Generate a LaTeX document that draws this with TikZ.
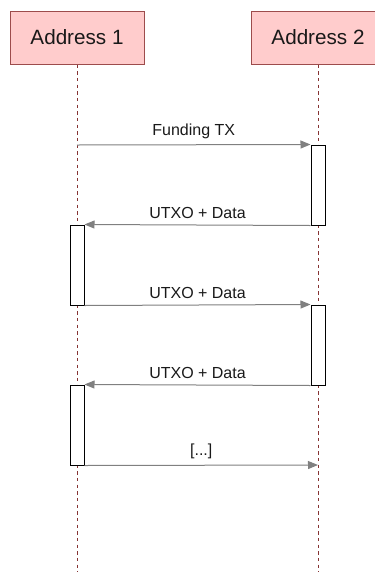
\documentclass[tikz,border=0pt]{standalone}
\usepackage{fontspec}
\setmainfont{Liberation Sans}
\usetikzlibrary{arrows.meta}

\tikzset{
  actor/.style={draw=red!45!black!70,fill=red!20!white,line width=.75pt,minimum width=100.5pt,minimum height=39.75pt,inner sep=0pt,font=\fontsize{15.5}{18}\selectfont,text=black!90},
  life/.style={draw=red!40!black!80,line width=.75pt,dash pattern=on 2.5pt off 2.5pt},
  act/.style={draw=black,fill=white,line width=.75pt,minimum width=10.5pt,minimum height=60pt,inner sep=0pt},
  msg/.style={draw=black!50,line width=.75pt,-{Triangle[length=7.5pt,width=6pt]}},
  lbl/.style={font=\fontsize{12}{14}\selectfont,text=black!90,above=1pt}
}

\begin{document}
\begin{tikzpicture}[x=.75pt,y=-.75pt]
\useasboundingbox (0,0) rectangle (375,572);
\clip (0,0) rectangle (375,572);
\node[actor] (p1) at (77,37.5) {Address 1};
\node[actor] (p2) at (318,37.5) {Address 2};
\coordinate (e1) at (77,572);\coordinate (e2) at (318,572);
\draw[life] (p1.south)--(e1);
\draw[life] (p2.south)--(e2);
\node[act] (act2a) at (318,185) {};
\node[act] (act1a) at (77,265) {};
\node[act] (act2b) at (318,345) {};
\node[act] (act1b) at (77,425) {};
\coordinate (f1) at (77,145);\coordinate (f2) at (318,465);
\draw[msg] (f1)--(act2a.north west) node[midway,lbl] {Funding TX};
\draw[msg] (act2a.south west)--(act1a.north east) node[midway,lbl] {UTXO + Data};
\draw[msg] (act1a.south east)--(act2b.north west) node[midway,lbl] {UTXO + Data};
\draw[msg] (act2b.south west)--(act1b.north east) node[midway,lbl] {UTXO + Data};
\draw[msg] (act1b.south east)--(f2) node[midway,lbl] {[...]};
\end{tikzpicture}
\end{document}
